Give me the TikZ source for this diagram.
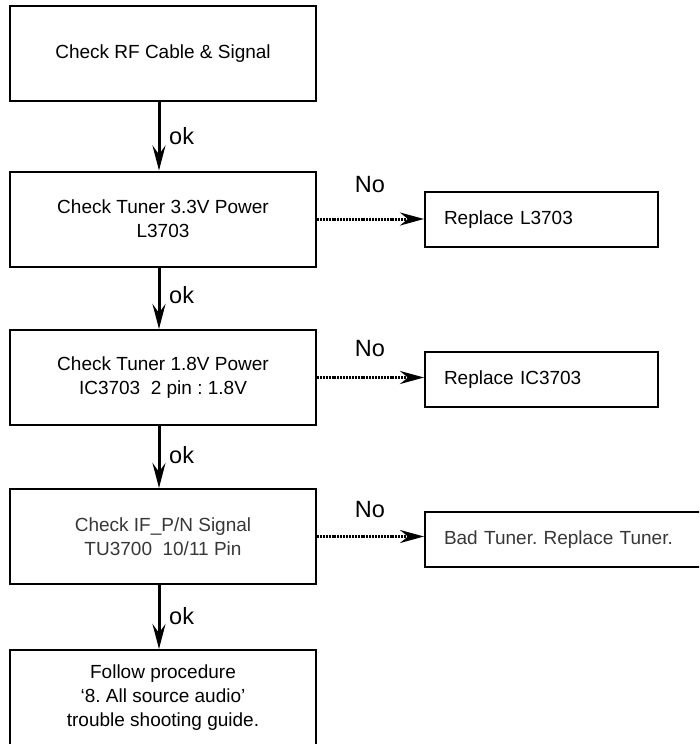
\documentclass[tikz,border=0pt]{standalone}
\usepackage{fontspec}
\setmainfont{Liberation Sans}
\usetikzlibrary{arrows.meta}
\frenchspacing
\definecolor{softtext}{RGB}{55,55,55}
\tikzset{
  x=1pt, y=-1pt,
  mainbox/.style={draw, line width=2pt, minimum width=306pt, minimum height=95pt,
    align=center, font=\fontsize{19}{24}\selectfont, inner sep=0pt},
  sidebox/.style={draw, line width=2pt, minimum height=55pt, anchor=west,
    align=left, font=\fontsize{19}{24}\selectfont, inner xsep=19pt, inner ysep=0pt},
  okarrow/.style={line width=3pt, -{Stealth[length=25pt, width=13pt, inset=9pt]}},
  noarrow/.style={line width=3pt, dash pattern=on 2pt off 0.9pt,
    -{Stealth[length=24pt, width=13pt, inset=8pt]}},
  tag/.style={font=\fontsize{23.5}{24}\selectfont, inner sep=0pt},
}
\begin{document}
\begin{tikzpicture}
  \useasboundingbox (0,0) rectangle (699,744);
  \clip (0,0) rectangle (699,744);

  % main chain of checks
  \node[mainbox] (b1) at (163,53.5) {Check RF Cable \& Signal};
  \node[mainbox] (b2) at (163,219) {Check Tuner 3.3V Power\\L3703};
  \node[mainbox] (b3) at (163,377.5) {Check Tuner 1.8V Power\\IC3703\ \ 2 pin : 1.8V};
  \node[mainbox, text=softtext] (b4) at (163,536.5) {Check IF\_P/N Signal\\TU3700\ \ 10/11 Pin};
  \node[mainbox, minimum height=96pt] (b5) at (163,698) {Follow procedure\\`8. All source audio'\\trouble shooting guide.};

  % remedies
  \node[sidebox, minimum width=233pt, text width=195pt] (r1) at (424,219.5) {Replace L3703};
  \node[sidebox, minimum width=233pt, text width=195pt] (r2) at (424,379.5) {Replace IC3703};
  \node[sidebox, minimum width=330pt, text width=292pt, text=softtext] (r3) at (424,539.5) {Bad Tuner. Replace Tuner.};

  % vertical "ok" arrows
  \coordinate (ax) at (159,0);
  \draw[okarrow] (b1.south -| ax) -- (b2.north -| ax);
  \draw[okarrow] (b2.south -| ax) -- (b3.north -| ax);
  \draw[okarrow] (b3.south -| ax) -- (b4.north -| ax);
  \draw[okarrow] (b4.south -| ax) -- (b5.north -| ax);
  \node[tag, anchor=west] (ok1) at (169,136) {ok};
  \node[tag, anchor=west] (ok2) at (169,295) {ok};
  \node[tag, anchor=west] (ok3) at (169,455) {ok};
  \node[tag, anchor=west] (ok4) at (169,616) {ok};

  % dotted "No" arrows
  \draw[noarrow] (b2.east) -- (b2.east -| r1.west);
  \draw[noarrow] (b3.east) -- (b3.east -| r2.west);
  \draw[noarrow] (b4.east) -- (b4.east -| r3.west);
  \node[tag] (no1) at (370,185) {No};
  \node[tag] (no2) at (370,348.5) {No};
  \node[tag] (no3) at (370,509.5) {No};
\end{tikzpicture}
\end{document}
